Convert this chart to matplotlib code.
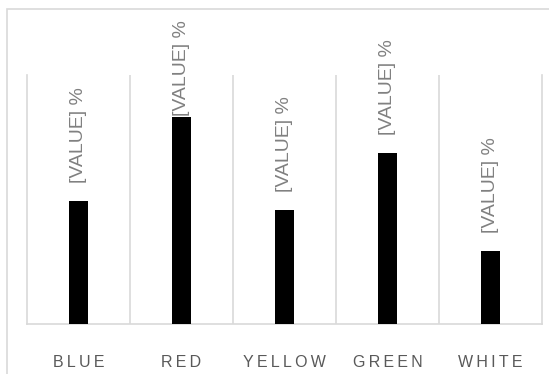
"""Bar chart with rotated value labels and letter-spaced category names."""

import matplotlib

matplotlib.use("Agg")
import matplotlib.pyplot as plt
import numpy as np
from matplotlib.patches import Rectangle

categories = ["BLUE", "RED", "YELLOW", "GREEN", "WHITE"]
values = [24.6, 41.5, 22.9, 34.4, 14.7]
value_labels = ["[VALUE] %"] * len(categories)

GRID = "#d9d9d9"
TEXT = "#595959"
LABEL = "#808080"

plt.rcParams["font.family"] = ["Liberation Sans", "DejaVu Sans"]

fig = plt.figure(figsize=(5.49, 3.74), dpi=100)
W, H = 549, 374

# outer chart border (cropped on the right and bottom)
fig.patches.append(Rectangle((7 / W, -0.2), 2.0, (H - 9) / H + 0.2,
                             transform=fig.transFigure, fill=False,
                             edgecolor=GRID, linewidth=1.2, zorder=0))

ax = fig.add_axes([27 / W, 50 / H, 515 / W, 249 / H])
x = np.arange(len(categories))
bars = ax.bar(x, values, width=0.175, color="black", zorder=3)

ax.set_xlim(-0.5, len(categories) - 0.5)
ax.set_ylim(0, 50)
ax.set_yticks([])
ax.set_xticks(x)
ax.set_xticklabels(["\u2009".join(c) for c in categories], fontsize=11.5,
                   color=TEXT)
ax.tick_params(axis="x", length=0, pad=22)

ax.set_xticks(x[:-1] + 0.5, minor=True)
ax.tick_params(axis="x", which="minor", length=0)
ax.grid(axis="x", which="minor", color=GRID, linewidth=1.2)

for side in ("left", "right", "bottom"):
    ax.spines[side].set_color(GRID)
    ax.spines[side].set_linewidth(1.2)
ax.spines["top"].set_visible(False)

# value labels above bars, kept inside the chart area
texts = []
for bar, lab in zip(bars, value_labels):
    t = ax.annotate(lab, (bar.get_x() + bar.get_width() / 2, bar.get_height()),
                    xytext=(0, 13), textcoords="offset points",
                    rotation=90, ha="center", va="bottom",
                    fontsize=14, color=LABEL, annotation_clip=False)
    texts.append(t)

fig.canvas.draw()
renderer = fig.canvas.get_renderer()
top_limit = H - 20
for t in texts:
    bb = t.get_window_extent(renderer)
    if bb.y1 > top_limit:
        dx, dy = t.xyann
        t.xyann = (dx, dy - (bb.y1 - top_limit) * 72 / fig.dpi)

fig.savefig("out.png", dpi=100)
